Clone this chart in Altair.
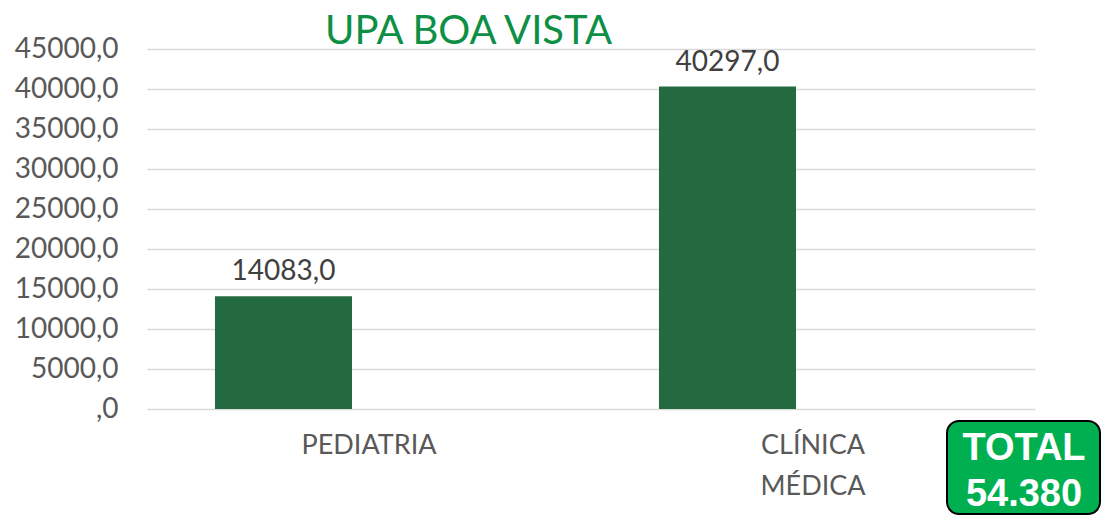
import altair as alt
import pandas as pd

categories = ["PEDIATRIA", "CLÍNICA MÉDICA"]
values = [14083, 40297]
series = ["A", "A"]
y_ticks = [0, 5000, 10000, 15000, 20000, 25000, 30000, 35000, 40000, 45000]
title_text = "UPA BOA VISTA"

total = sum(values)
total_text = f"{total:,}".replace(",", ".")

df = pd.DataFrame({"cat": categories, "val": values, "series": series})
df["label"] = [f"{v},0" for v in values]

FONT = "Lato"

x_enc = alt.X("cat:N", sort=categories,
              scale=alt.Scale(paddingInner=0, paddingOuter=0),
              axis=alt.Axis(title=None, ticks=False, domain=False, labelAngle=0,
                            labelFont=FONT, labelFontSize=27, labelColor="#595959",
                            labelPadding=23, labelLineHeight=41,
                            labelExpr="split(datum.label, ' ')"))
xoff = alt.XOffset("series:N", scale=alt.Scale(domain=["A", "B"], paddingInner=0,
                                                paddingOuter=0.62, align=0.4))
y_enc = alt.Y("val:Q", scale=alt.Scale(domain=[0, 45000], nice=False),
              axis=alt.Axis(title=None, values=y_ticks, ticks=False, domain=False,
                            grid=True, gridColor="#D9D9D9", gridWidth=1.5,
                            labelFont=FONT, labelFontSize=28, labelColor="#595959",
                            labelPadding=29, labelOverlap=False,
                            labelExpr="datum.value == 0 ? ',0' : datum.value + ',0'"))

base = alt.Chart(df).encode(x=x_enc, xOffset=xoff, y=y_enc)
bars = base.mark_bar(color="#246A40")
labels = base.mark_text(font=FONT, fontSize=28, color="#404040",
                        baseline="bottom", dy=-10).encode(text="label:N")

box_df = pd.DataFrame({"l1": ["TOTAL"], "l2": [total_text]})
box = alt.Chart(box_df).mark_rect(fill="#00B050", stroke="#000000", strokeWidth=2,
                                  cornerRadius=12).encode(
    x=alt.value(800), x2=alt.value(953), y=alt.value(372), y2=alt.value(465))
t1 = alt.Chart(box_df).mark_text(font="Liberation Sans", fontWeight="bold", fontSize=38,
                                 color="white", baseline="middle").encode(
    x=alt.value(877), y=alt.value(400), text="l1:N")
t2 = alt.Chart(box_df).mark_text(font="Liberation Sans", fontWeight="bold", fontSize=38,
                                 color="white", baseline="middle").encode(
    x=alt.value(877), y=alt.value(446), text="l2:N")

chart = alt.layer(bars, labels, box, t1, t2).properties(
    width=888, height=360,
    background="white",
    title=alt.TitleParams(title_text, anchor="start", frame="group", dx=178, dy=17,
                          font=FONT, fontSize=40, fontWeight="normal", color="#0E8F46",
                          offset=0),
    autosize=alt.AutoSizeParams(type="none"),
    padding={"left": 139, "top": 41, "right": 66, "bottom": 107},
).configure_view(stroke=None)

chart.save("out.html", embed_options={"renderer": "svg", "actions": False})
